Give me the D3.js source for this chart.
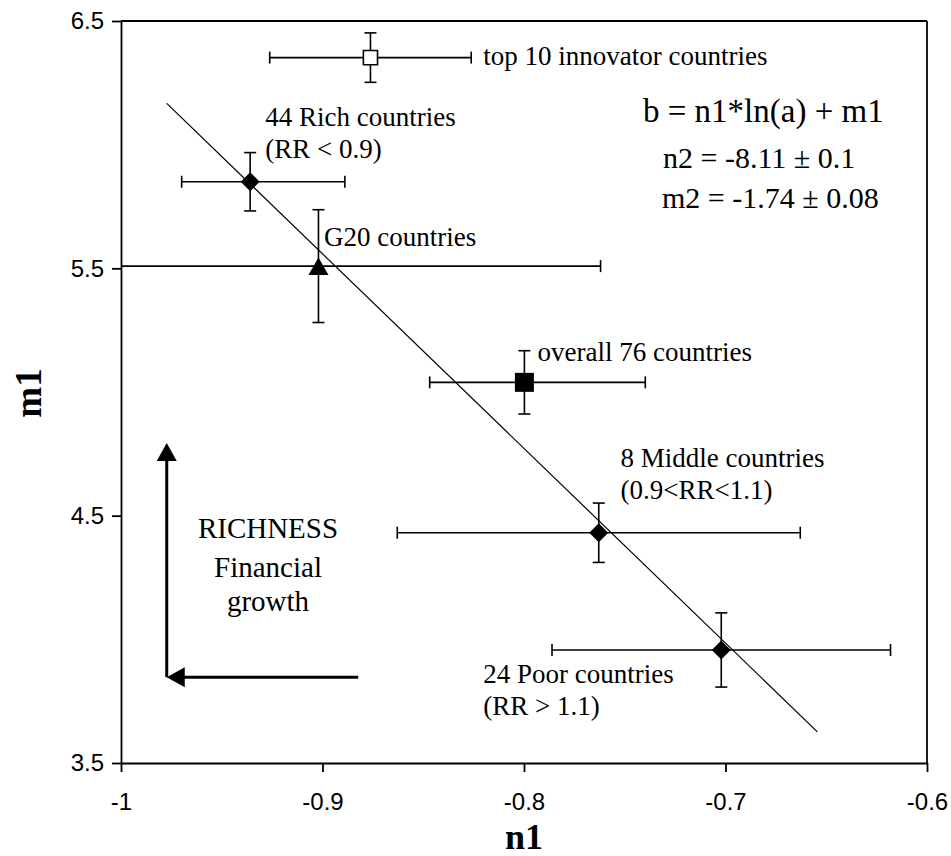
<!DOCTYPE html>
<html>
<head>
<meta charset="utf-8">
<script src="https://cdn.jsdelivr.net/npm/d3@7"></script>
<style>
  body { margin: 0; background: #fff; }
  svg { display: block; }
</style>
</head>
<body>
<div id="chart"></div>
<script>
// group estimates
const groups = ["top 10 innovator countries", "44 Rich countries", "G20 countries",
                "overall 76 countries", "8 Middle countries", "24 Poor countries"];
const shapes = ["squareOpen", "diamond", "triangle", "square", "diamond", "diamond"];
const n1Values = [-0.8762, -0.9359, -0.9020, -0.7998, -0.7629, -0.7021];
const m1Values = [6.352, 5.850, 5.509, 5.039, 4.431, 3.957];
const n1ErrLow = [0.050, 0.034, 0.140, 0.047, 0.100, 0.084];
const n1ErrHigh = [0.050, 0.047, 0.140, 0.060, 0.100, 0.084];
const m1Err = [0.100, 0.118, 0.228, 0.128, 0.120, 0.150];

// fitted line b = n1*ln(a) + m1, endpoints
const fitN1 = [-0.9773, -0.6544];
const fitM1 = [6.167, 3.626];

const xTicks = [-1, -0.9, -0.8, -0.7, -0.6];
const yTicks = [3.5, 4.5, 5.5, 6.5];

// label anchors (data units, first baseline)
const labels = [
  {lines: ["top 10 innovator countries"], n1: -0.8202, m1: 6.322},
  {lines: ["44 Rich countries", "(RR < 0.9)"], n1: -0.9284, m1: 6.076},
  {lines: ["G20 countries"], n1: -0.8992, m1: 5.590},
  {lines: ["overall 76 countries"], n1: -0.7933, m1: 5.125},
  {lines: ["8 Middle countries", "(0.9<RR<1.1)"], n1: -0.7521, m1: 4.697},
  {lines: ["24 Poor countries", "(RR > 1.1)"], n1: -0.8202, m1: 3.823}
];
const equation = ["b = n1*ln(a) + m1", "n2 = -8.11 \u00b1 0.1", "m2 = -1.74 \u00b1 0.08"];
const arrowText = ["RICHNESS", "Financial", "growth"];

const serif = "'Liberation Serif', 'Times New Roman', Times, serif";
const sans = "'Liberation Sans', Arial, Helvetica, sans-serif";

const W = 951, H = 856;
const margin = {top: 21, right: 24, bottom: 93, left: 121};
const width = W - margin.left - margin.right,
      height = H - margin.top - margin.bottom;

const svg = d3.select("#chart").append("svg")
  .attr("width", W).attr("height", H);
svg.append("rect").attr("width", W).attr("height", H).attr("fill", "#fff");

const g = svg.append("g")
  .attr("transform", "translate(" + margin.left + "," + margin.top + ")");

const x = d3.scaleLinear().domain([-1, -0.6]).range([0, width]);
const y = d3.scaleLinear().domain([3.5, 6.5]).range([height, 0]);

svg.append("defs").append("clipPath").attr("id", "plot")
  .append("rect").attr("width", width).attr("height", height);

// frame: top and right border
g.append("line").attr("x1", 0).attr("x2", width).attr("y1", 0).attr("y2", 0)
  .attr("stroke", "#000").attr("stroke-width", 1.8);
g.append("line").attr("x1", width).attr("x2", width).attr("y1", 0).attr("y2", height)
  .attr("stroke", "#000").attr("stroke-width", 1.8);

const xAxis = g.append("g")
  .attr("transform", "translate(0," + height + ")")
  .call(d3.axisBottom(x).tickValues(xTicks).tickFormat(d => String(d))
    .tickSize(9).tickSizeOuter(0).tickPadding(21));
const yAxis = g.append("g")
  .call(d3.axisLeft(y).tickValues(yTicks).tickFormat(d => String(d))
    .tickSize(9).tickSizeOuter(0).tickPadding(8));

[xAxis, yAxis].forEach(a => {
  a.attr("font-family", sans).attr("font-size", 24);
  a.selectAll("path, line").attr("stroke", "#000").attr("stroke-width", 1.8);
  a.selectAll("text").attr("fill", "#000");
});

// axis titles
svg.append("text")
  .attr("x", margin.left + width / 2).attr("y", 849)
  .attr("text-anchor", "middle")
  .style("font-family", serif).style("font-size", "36px").style("font-weight", "bold")
  .text("n1");
svg.append("text")
  .attr("transform", "translate(41," + (margin.top + height / 2 + 1) + ") rotate(-90)")
  .attr("text-anchor", "middle")
  .style("font-family", serif).style("font-size", "37px").style("font-weight", "bold")
  .text("m1");

const plot = g.append("g").attr("clip-path", "url(#plot)");

// fitted line
plot.append("line")
  .attr("x1", x(fitN1[0])).attr("y1", y(fitM1[0]))
  .attr("x2", x(fitN1[1])).attr("y2", y(fitM1[1]))
  .attr("stroke", "#000").attr("stroke-width", 1.2);

const pts = groups.map((name, i) => ({
  name: name, shape: shapes[i], n1: n1Values[i], m1: m1Values[i],
  lo: n1ErrLow[i], hi: n1ErrHigh[i], dm: m1Err[i]
}));

const cap = 6;
const bars = plot.selectAll("g.err").data(pts).enter().append("g")
  .attr("class", "err").attr("stroke", "#000").attr("stroke-width", 1.6);
bars.append("line")
  .attr("x1", d => x(d.n1 - d.lo)).attr("x2", d => x(d.n1 + d.hi))
  .attr("y1", d => y(d.m1)).attr("y2", d => y(d.m1));
bars.append("line")
  .attr("x1", d => x(d.n1 - d.lo)).attr("x2", d => x(d.n1 - d.lo))
  .attr("y1", d => y(d.m1) - cap).attr("y2", d => y(d.m1) + cap);
bars.append("line")
  .attr("x1", d => x(d.n1 + d.hi)).attr("x2", d => x(d.n1 + d.hi))
  .attr("y1", d => y(d.m1) - cap).attr("y2", d => y(d.m1) + cap);
bars.append("line")
  .attr("x1", d => x(d.n1)).attr("x2", d => x(d.n1))
  .attr("y1", d => y(d.m1 + d.dm)).attr("y2", d => y(d.m1 - d.dm));
bars.append("line")
  .attr("x1", d => x(d.n1) - cap).attr("x2", d => x(d.n1) + cap)
  .attr("y1", d => y(d.m1 + d.dm)).attr("y2", d => y(d.m1 + d.dm));
bars.append("line")
  .attr("x1", d => x(d.n1) - cap).attr("x2", d => x(d.n1) + cap)
  .attr("y1", d => y(d.m1 - d.dm)).attr("y2", d => y(d.m1 - d.dm));

// markers
const symbolFor = {
  diamond: d3.symbol(d3.symbolSquare, 180),
  square: d3.symbol(d3.symbolSquare, 361),
  squareOpen: d3.symbol(d3.symbolSquare, 200),
  triangle: d3.symbol(d3.symbolTriangle, 175)
};
g.selectAll("path.mark").data(pts).enter().append("path")
  .attr("class", "mark")
  .attr("d", d => symbolFor[d.shape]())
  .attr("transform", d => {
    let t = "translate(" + x(d.n1) + "," + y(d.m1) + ")";
    if (d.shape === "diamond") t += " rotate(45)";
    if (d.shape === "triangle") t += " translate(0,3)";
    return t;
  })
  .attr("fill", d => d.shape === "squareOpen" ? "#fff" : "#000")
  .attr("stroke", "#000")
  .attr("stroke-width", d => d.shape === "squareOpen" ? 1.6 : 0);

// group labels
labels.forEach(l => {
  const t = g.append("text")
    .attr("x", x(l.n1)).attr("y", y(l.m1))
    .style("font-family", serif).style("font-size", "27px").attr("fill", "#000");
  l.lines.forEach((s, k) => {
    t.append("tspan").attr("x", x(l.n1)).attr("dy", k === 0 ? 0 : 32).text(s);
  });
});

// equation block
const eq = svg.append("g").style("font-family", serif).attr("fill", "#000");
eq.append("text").attr("x", 643).attr("y", 122).style("font-size", "33px").text(equation[0]);
eq.append("text").attr("x", 663).attr("y", 168).style("font-size", "30px").text(equation[1]);
eq.append("text").attr("x", 662).attr("y", 208).style("font-size", "30px").text(equation[2]);

// richness arrows (data units)
const arrowCorner = {n1: -0.9773, m1: 3.847};
const arrowTipM1 = 4.794;
const arrowTailN1 = -0.8823;
const head = 18, half = 10;
const cx = x(arrowCorner.n1), cy = y(arrowCorner.m1);
g.append("line").attr("x1", cx).attr("y1", cy).attr("x2", cx).attr("y2", y(arrowTipM1) + head - 2)
  .attr("stroke", "#000").attr("stroke-width", 3);
g.append("path")
  .attr("d", "M" + cx + "," + y(arrowTipM1) + " L" + (cx - half) + "," + (y(arrowTipM1) + head) +
             " L" + (cx + half) + "," + (y(arrowTipM1) + head) + "Z")
  .attr("fill", "#000");
g.append("line").attr("x1", x(arrowTailN1)).attr("y1", cy).attr("x2", cx + head - 2).attr("y2", cy)
  .attr("stroke", "#000").attr("stroke-width", 3);
g.append("path")
  .attr("d", "M" + cx + "," + cy + " L" + (cx + head) + "," + (cy - half) +
             " L" + (cx + head) + "," + (cy + half) + "Z")
  .attr("fill", "#000");

const rt = svg.append("text")
  .attr("text-anchor", "middle")
  .style("font-family", serif).style("font-size", "29px").attr("fill", "#000");
arrowText.forEach((s, k) => {
  rt.append("tspan").attr("x", 268).attr("y", [538, 577, 611][k]).text(s);
});
</script>
</body>
</html>
